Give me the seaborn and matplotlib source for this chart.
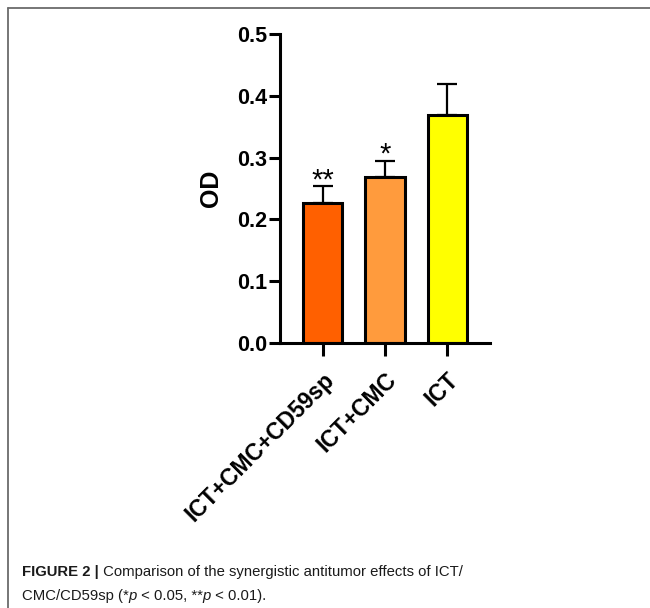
import matplotlib
matplotlib.use("Agg")
import matplotlib.pyplot as plt
import seaborn as sns
from matplotlib.lines import Line2D
from matplotlib.transforms import IdentityTransform

groups = ["ICT+CMC+CD59sp", "ICT+CMC", "ICT"]
od_mean = [0.227, 0.269, 0.369]
od_err = [0.027, 0.026, 0.050]
stars = ["**", "*", ""]
bar_colors = ["#FF6000", "#FF9B3D", "#FFFF00"]
y_ticks = [0.0, 0.1, 0.2, 0.3, 0.4, 0.5]

sns.set_theme(style="ticks")
plt.rcParams["font.family"] = ["Liberation Sans", "DejaVu Sans"]

fig = plt.figure(figsize=(6.5, 6.08), dpi=100)
ax = fig.add_axes([280 / 650, 1 - 343 / 608, 210 / 650, 309 / 608])

sns.barplot(x=groups, y=od_mean, hue=groups, palette=bar_colors, legend=False,
            saturation=1, width=0.63, edgecolor="black", linewidth=2.2, ax=ax)

# only upper error bars, like the original
ax.errorbar(range(len(groups)), od_mean, yerr=[[0] * 3, od_err], fmt="none",
            ecolor="black", elinewidth=1.6, capsize=7.5, capthick=1.6, zorder=1)

for i, s in enumerate(stars):
    if s:
        ax.annotate(s, xy=(i, od_mean[i] + od_err[i]), xytext=(0, -1.5),
                    textcoords="offset points", ha="center", va="baseline",
                    fontsize=21, color="black")

ax.set_ylim(0, 0.5)
ax.set_xlim(-0.69, 2.69)
ax.set_yticks(y_ticks)
ax.set_yticklabels([f"{v:.1f}" for v in y_ticks], fontsize=15.5, fontweight="bold")
ax.set_ylabel("OD", fontsize=18, fontweight="bold", labelpad=10, color="black")
ax.set_xticks(range(len(groups)))
ax.set_xticklabels(groups, rotation=45, ha="right", va="top", rotation_mode="anchor",
                   fontsize=16.5, fontweight="bold")

sns.despine(ax=ax)
for side in ["left", "bottom"]:
    ax.spines[side].set_linewidth(2.2)
    ax.spines[side].set_color("black")
ax.tick_params(axis="y", length=8, width=2.2, pad=1, colors="black")
ax.tick_params(axis="x", length=9, width=2.2, pad=9, colors="black")

# frame around the figure panel
fig.add_artist(Line2D([8 / 650, 8 / 650], [0, 1 - 8 / 608], color="#6b6b6b", lw=1.3))
fig.add_artist(Line2D([8 / 650, 1], [1 - 8 / 608, 1 - 8 / 608], color="#6b6b6b", lw=1.3))

# caption, written in runs so the bold and italic parts sit inline
renderer = fig.canvas.get_renderer()


def put_runs(x, y, runs):
    for s, kw in runs:
        t = fig.text(x, y, s, transform=IdentityTransform(), fontsize=10.7,
                     family=["Liberation Sans", "DejaVu Sans"], color="#1a1a1a",
                     va="baseline", **kw)
        x = t.get_window_extent(renderer).x1


put_runs(22, 32, [("FIGURE 2 |", {"fontweight": "bold"}),
                  (" Comparison of the synergistic antitumor effects of ICT/", {})])
put_runs(22, 8, [("CMC/CD59sp (*", {}), ("p", {"style": "italic"}),
                 (" < 0.05, **", {}), ("p", {"style": "italic"}), (" < 0.01).", {})])

fig.savefig("out.png", dpi=100)
